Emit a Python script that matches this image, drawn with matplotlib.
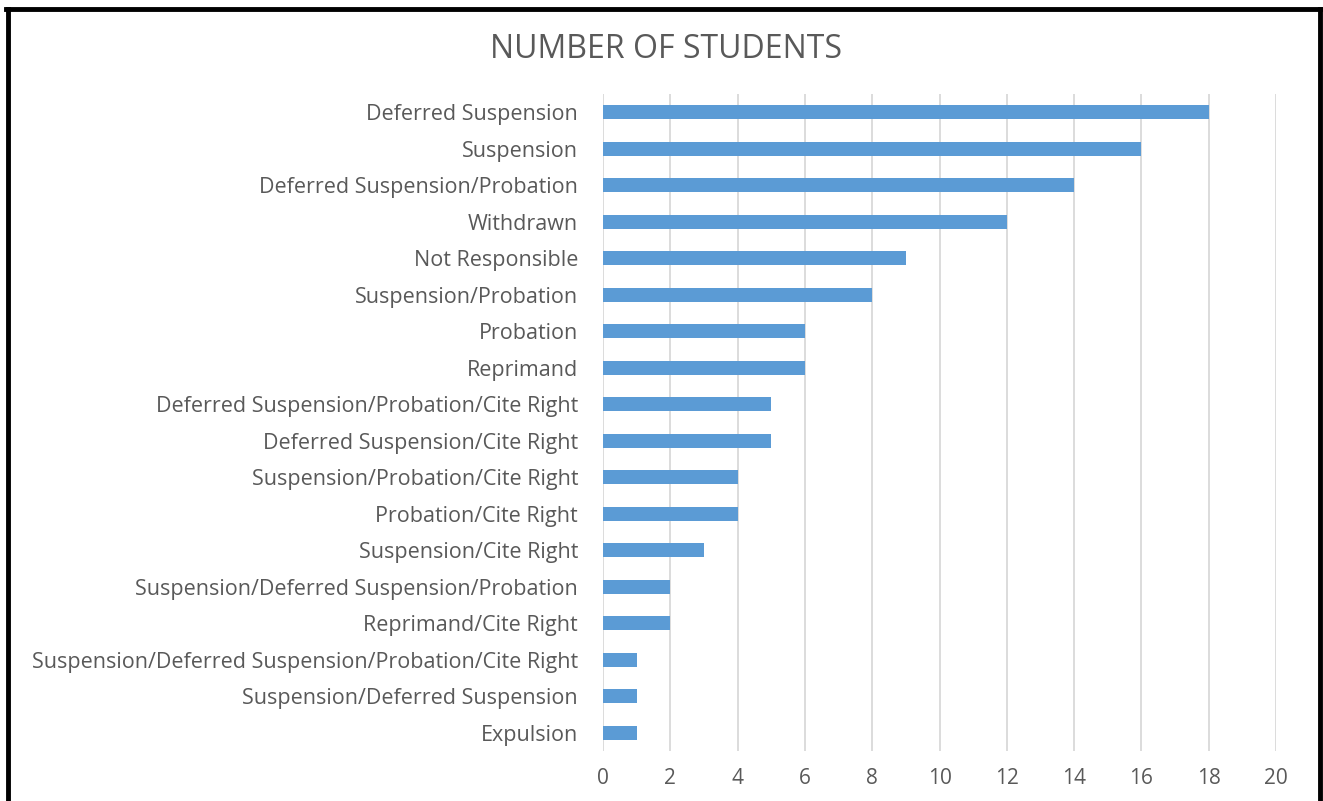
import matplotlib
matplotlib.use('Agg')
import matplotlib.pyplot as plt

plt.rcParams['font.family'] = ['Open Sans', 'DejaVu Sans']

# 处分类型与人数（自上而下）
categories = [
    'Deferred Suspension',
    'Suspension',
    'Deferred Suspension/Probation',
    'Withdrawn',
    'Not Responsible',
    'Suspension/Probation',
    'Probation',
    'Reprimand',
    'Deferred Suspension/Probation/Cite Right',
    'Deferred Suspension/Cite Right',
    'Suspension/Probation/Cite Right',
    'Probation/Cite Right',
    'Suspension/Cite Right',
    'Suspension/Deferred Suspension/Probation',
    'Reprimand/Cite Right',
    'Suspension/Deferred Suspension/Probation/Cite Right',
    'Suspension/Deferred Suspension',
    'Expulsion',
]
counts = [18, 16, 14, 12, 9, 8, 6, 6, 5, 5, 4, 4, 3, 2, 2, 1, 1, 1]
x_ticks = list(range(0, 21, 2))

text_color = '#595959'
bar_color = '#5B9BD5'

fig = plt.figure(figsize=(13.23, 8.01), dpi=100)
ax = fig.add_axes([603 / 1323, 1 - 751 / 801, 673 / 1323, 657 / 801])

y = list(range(len(categories)))
ax.barh(y, counts, height=0.38, color=bar_color, zorder=3)
ax.set_ylim(len(categories) - 0.5, -0.5)
ax.set_xlim(0, 20)
ax.set_xticks(x_ticks)
ax.set_yticks(y)
ax.set_yticklabels(categories)

ax.grid(axis='x', color='#D9D9D9', linewidth=1.3, zorder=0)
for s in ax.spines.values():
    s.set_visible(False)
ax.tick_params(axis='both', length=0, colors=text_color, labelsize=15.5)
ax.tick_params(axis='y', pad=18)
ax.tick_params(axis='x', labelsize=15, pad=12)

fig.text(666 / 1323, 1 - 49 / 801, 'NUMBER OF STUDENTS', ha='center', va='center',
         fontsize=23, color=text_color)

# 外框（底边被截掉）
fig.add_artist(plt.Line2D([8 / 1323, 8 / 1323], [0, 1 - 9 / 801], color='black',
                          linewidth=3.5, transform=fig.transFigure))
fig.add_artist(plt.Line2D([1320 / 1323, 1320 / 1323], [0, 1 - 9 / 801], color='black',
                          linewidth=3.5, transform=fig.transFigure))
fig.add_artist(plt.Line2D([6 / 1323, 1322 / 1323], [1 - 9 / 801, 1 - 9 / 801], color='black',
                          linewidth=3.5, transform=fig.transFigure))

fig.savefig('out.png', dpi=100)
